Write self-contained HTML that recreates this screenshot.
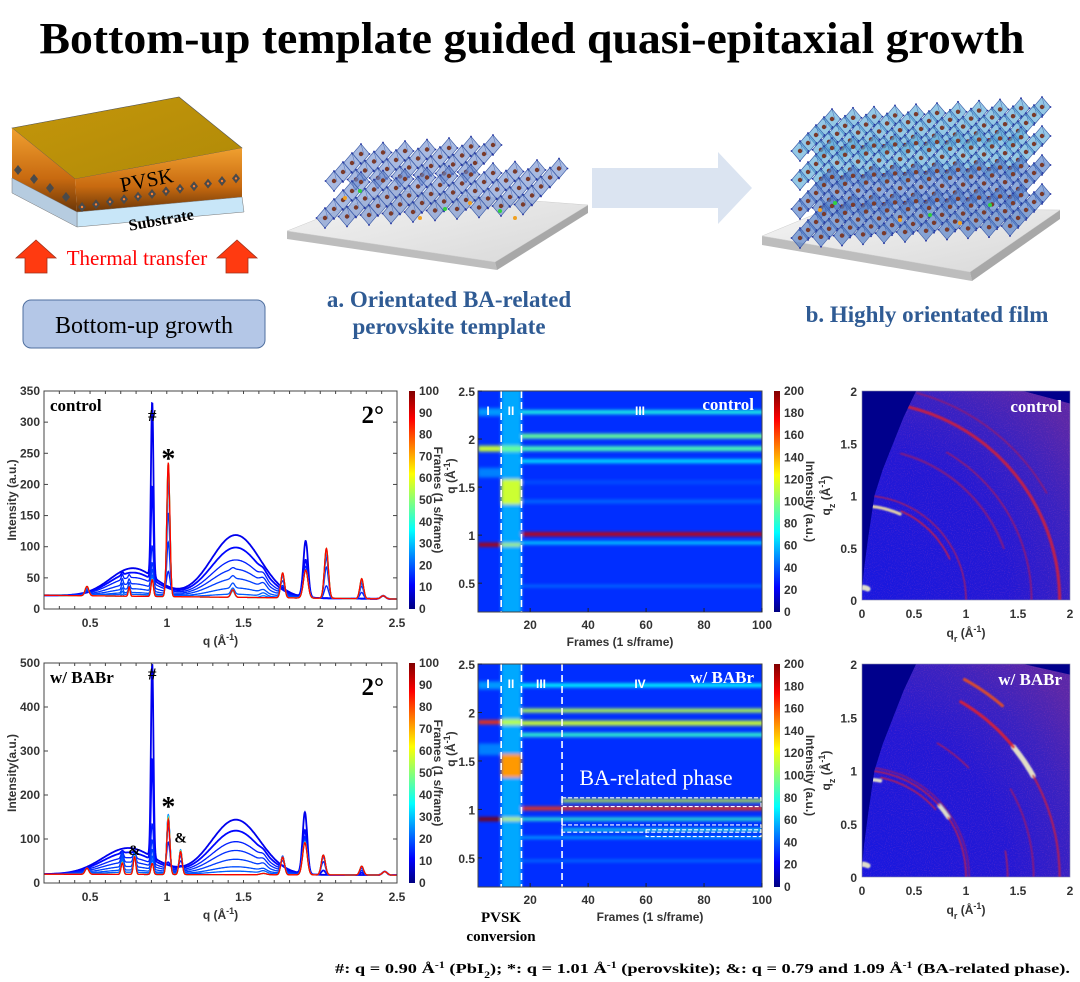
<!DOCTYPE html>
<html><head><meta charset="utf-8">
<style>
html,body{margin:0;padding:0;background:#fff;}
svg{display:block;}
.tk{font-family:"Liberation Sans",sans-serif;font-weight:bold;font-size:12px;}
.ser{font-family:"Liberation Serif",serif;}
</style></head>
<body>
<svg id="root" width="1080" height="982" viewBox="0 0 1080 982" xmlns="http://www.w3.org/2000/svg">
<defs>
  <filter id="blur1" x="-5%" y="-5%" width="110%" height="110%"><feGaussianBlur stdDeviation="1.5"/></filter>
  <filter id="blur2"><feGaussianBlur stdDeviation="0.9"/></filter>
  <filter id="spk" x="0" y="0" width="100%" height="100%"><feTurbulence type="fractalNoise" baseFrequency="0.95" numOctaves="1" seed="3"/><feColorMatrix values="0 0 0 0 0.7  0 0 0 0 0.1  0 0 0 0 0.5  0 0 0 1.6 -0.8"/></filter>
  <linearGradient id="jetv" x1="0" y1="1" x2="0" y2="0">
    <stop offset="0" stop-color="#000080"/><stop offset="0.11" stop-color="#0000ff"/><stop offset="0.36" stop-color="#00ffff"/><stop offset="0.62" stop-color="#ffff00"/><stop offset="0.87" stop-color="#ff0000"/><stop offset="1" stop-color="#800000"/>
  </linearGradient>
  <radialGradient id="gw" cx="0" cy="1" r="1.3" fx="0" fy="1">
    <stop offset="0" stop-color="#1818e0"/><stop offset="0.55" stop-color="#2418d4"/><stop offset="0.8" stop-color="#3a22c0"/><stop offset="1" stop-color="#5a28a8"/>
  </radialGradient>
  <linearGradient id="pvskTop" x1="0" y1="0" x2="1" y2="1"><stop offset="0" stop-color="#c4960a"/><stop offset="1" stop-color="#b08a08"/></linearGradient>
  <linearGradient id="pvskSide" x1="0" y1="0" x2="0" y2="1"><stop offset="0" stop-color="#f0a030"/><stop offset="0.6" stop-color="#c86a10"/><stop offset="1" stop-color="#6a3608"/></linearGradient>
  <linearGradient id="slabTop" x1="0" y1="0" x2="1" y2="1"><stop offset="0" stop-color="#f4f4f4"/><stop offset="1" stop-color="#d8d8d8"/></linearGradient>
</defs>
<rect width="1080" height="982" fill="#fff"/>

<text x="532" y="53" text-anchor="middle" class="ser" font-weight="bold" font-size="44" textLength="985" lengthAdjust="spacingAndGlyphs">Bottom-up template guided quasi-epitaxial growth</text>

<g>
  <polygon points="12,128 179,97 242,148 75,179" fill="url(#pvskTop)" stroke="#555" stroke-width="0.6"/>
  <polygon points="75,179 242,148 242,197 77,212" fill="url(#pvskSide)"/>
  <polygon points="12,128 75,179 77,212 12,178" fill="url(#pvskSide)"/>
  <polygon points="77,212 242,197 244,212 77,227" fill="#c8e6f8" stroke="#777" stroke-width="0.5"/>
  <polygon points="12,178 77,212 77,227 12,193" fill="#b6cce0" stroke="#777" stroke-width="0.5"/>
  <g id="chainRow"></g>
  <text x="148" y="187" class="ser" font-size="21" text-anchor="middle" transform="rotate(-11 148 187)">PVSK</text>
  <text x="162" y="225" class="ser" font-weight="bold" font-size="16" text-anchor="middle" transform="rotate(-10 162 225)">Substrate</text>
  <polygon points="36,240 56,258 47,258 47,273 25,273 25,258 16,258" fill="#ff3a10" stroke="#a0301a" stroke-width="0.8"/>
  <polygon points="237,240 257,258 248,258 248,273 226,273 226,258 217,258" fill="#ff3a10" stroke="#a0301a" stroke-width="0.8"/>
  <text x="137" y="265" class="ser" font-size="21" fill="#ff0000" text-anchor="middle">Thermal transfer</text>
  <rect x="23" y="300" width="242" height="48" rx="8" fill="#b4c7e7" stroke="#4f6f9f" stroke-width="1"/>
  <text x="144" y="333" class="ser" font-size="24" text-anchor="middle">Bottom-up growth</text>
</g>

<g>
  <polygon points="287,231 495,262 497,270 287,239" fill="#bdbdbd"/>
  <polygon points="495,262 588,205 588,213 497,270" fill="#a8a8a8"/>
  <polygon points="287,231 390,190 588,205 495,262" fill="url(#slabTop)" stroke="#ccc" stroke-width="0.5"/>
  <g id="crysA"></g>
</g>
<polygon points="592,168 718,168 718,152 752,188 718,224 718,208 592,208" fill="#dbe4f1"/>
<g>
  <polygon points="762,236 970,272 972,281 762,245" fill="#bdbdbd"/>
  <polygon points="970,272 1060,210 1060,219 972,281" fill="#a8a8a8"/>
  <polygon points="762,236 830,208 1060,210 970,272" fill="url(#slabTop)" stroke="#ccc" stroke-width="0.5"/>
  <g id="crysB"></g>
</g>
<text x="449" y="307" class="ser" font-weight="bold" font-size="23" fill="#2f5b94" text-anchor="middle">a. Orientated BA-related</text>
<text x="449" y="334" class="ser" font-weight="bold" font-size="23" fill="#2f5b94" text-anchor="middle">perovskite template</text>
<text x="927" y="322" class="ser" font-weight="bold" font-size="23" fill="#2f5b94" text-anchor="middle">b. Highly orientated film</text>

<g id="charts"></g>

<text x="501" y="922" class="ser" font-weight="bold" font-size="15" text-anchor="middle">PVSK</text>
<text x="501" y="941" class="ser" font-weight="bold" font-size="15" text-anchor="middle">conversion</text>

<text x="1070" y="973" class="ser" font-weight="bold" font-size="14" text-anchor="end" textLength="735" lengthAdjust="spacingAndGlyphs">#: q = 0.90 Å<tspan baseline-shift="super" font-size="9">-1</tspan> (PbI<tspan baseline-shift="sub" font-size="9">2</tspan>); *: q = 1.01 Å<tspan baseline-shift="super" font-size="9">-1</tspan> (perovskite); &amp;: q = 0.79 and 1.09 Å<tspan baseline-shift="super" font-size="9">-1</tspan> (BA-related phase).</text>
</svg>

<script>
// ---------- line plot data ----------
const ctrlPeakQ = [0.78,1.45,0.48,0.71,0.755,0.905,1.01,1.43,1.63,1.755,1.905,2.04,2.27,2.41];
const ctrlPeakW = [0.15,0.16,0.012,0.006,0.006,0.008,0.01,0.012,0.02,0.012,0.015,0.013,0.012,0.015];
const ctrlFrames = [1,4,7,9,11,13,15,18,25,40,70,100];
const ctrlBase = [22,16];
const ctrlHeights = [
 [45,100,0,0,0,280,0,0,0,0,90,0,0,5],
 [38,80,0,5,0,150,0,0,5,0,60,0,0,5],
 [30,60,3,8,5,60,30,0,8,10,50,20,10,5],
 [20,45,5,10,8,40,80,3,8,20,45,50,20,5],
 [12,30,8,10,10,35,130,5,8,30,45,65,25,5],
 [6,15,10,8,10,30,180,8,5,35,45,72,28,5],
 [3,5,12,5,12,30,200,10,5,38,45,75,30,5],
 [0,0,14,3,13,28,210,10,3,38,45,78,30,5],
 [0,0,15,0,13,28,213,11,0,39,45,79,31,5],
 [0,0,15,0,14,28,215,11,0,40,45,80,32,5],
 [0,0,15,0,14,27,215,12,0,40,45,80,32,5],
 [0,0,15,0,15,27,215,12,0,40,45,80,32,5]];
const babrPeakQ = [0.75,1.45,0.48,0.71,0.79,0.905,1.01,1.09,1.63,1.755,1.90,2.02,2.27,2.42];
const babrPeakW = [0.17,0.16,0.012,0.008,0.008,0.008,0.01,0.01,0.02,0.012,0.015,0.013,0.012,0.015];
const babrFrames = [1,4,7,9,11,13,15,18,25,40,70,100];
const babrBase = [20,18];
const babrHeights = [
 [60,125,0,0,0,440,0,0,0,0,140,0,0,8],
 [50,100,0,5,5,230,10,5,5,5,100,10,5,8],
 [38,75,3,15,15,90,60,20,8,20,85,30,10,8],
 [28,55,5,25,25,60,100,35,8,30,80,40,15,8],
 [18,35,8,30,35,45,120,45,8,35,78,45,18,8],
 [10,18,10,30,40,35,130,50,5,40,77,45,20,8],
 [5,8,12,30,42,30,135,55,5,40,76,45,20,8],
 [0,0,14,28,42,25,135,55,3,40,75,45,20,8],
 [0,0,14,28,42,25,133,55,3,40,75,45,20,8],
 [0,0,14,27,42,25,130,54,3,40,74,45,20,8],
 [0,0,14,27,41,25,128,53,3,40,74,45,20,8],
 [0,0,14,26,40,25,125,52,3,40,73,45,20,8]];
const lineXTicks = [0.5,1,1.5,2,2.5];
const ctrlYTicks = [0,50,100,150,200,250,300,350];
const babrYTicks = [0,100,200,300,400,500];
const frameBarTicks = [0,10,20,30,40,50,60,70,80,90,100];

// ---------- heatmap data ----------
const hmCtrlQ  = [1.375,0.90,1.90,2.28,1.65,1.45,0.90,1.90,2.28,2.03,1.90,1.77,1.35,1.01,0.92,0.47,1.55];
const hmCtrlF0 = [10,2,2,2,2,10,10,10,17,17,17,17,17,17,17,17,17];
const hmCtrlF1 = [17,10,10,10,10,17,17,17,100,100,100,100,100,100,100,100,100];
const hmCtrlV  = [58,190,115,55,50,115,110,95,80,95,90,70,45,185,70,50,40];
const hmCtrlW  = [1.2,0.02,0.03,0.04,0.05,0.13,0.015,0.03,0.02,0.025,0.025,0.02,0.02,0.02,0.015,0.01,0.02];
const hmCtrlDiv = [10,17];
const hmBabrQ  = [1.375,0.90,1.90,2.28,1.62,1.45,0.90,1.90,2.28,2.02,1.89,1.77,1.09,1.01,0.90,0.79,0.71,0.47];
const hmBabrF0 = [10,2,2,2,2,10,10,10,17,17,17,17,31,17,17,31,17,17];
const hmBabrF1 = [17,10,10,10,10,17,17,17,100,100,100,100,100,100,100,100,100,100];
const hmBabrV  = [58,200,165,55,50,145,115,110,75,110,115,85,115,165,85,80,65,50];
const hmBabrW  = [1.2,0.02,0.02,0.04,0.06,0.12,0.015,0.03,0.02,0.02,0.025,0.02,0.015,0.018,0.015,0.012,0.01,0.01];
const hmBabrDiv = [10,17,31];
const hmBabrBoxF0 = [31,31,60];
const hmBabrBoxF1 = [100,100,100];
const hmBabrBoxQ0 = [1.12,0.84,0.79];
const hmBabrBoxQ1 = [1.03,0.765,0.72];
const hmYTicks = [0.5,1,1.5,2,2.5];
const hmXTicks = [20,40,60,80,100];
const hmBarTicks = [0,20,40,60,80,100,120,140,160,180,200];

// ---------- GIWAXS data ----------
const gwEdgeQr = [0.0,0.02,0.06,0.12,0.2,0.3,0.4,0.52];
const gwEdgeQz = [0.1,0.3,0.6,1.0,1.25,1.5,1.75,2.0];
const gwCtrlCutQr = [1.55,2.0]; const gwCtrlCutQz = [2.0,1.88];
const gwBabrCutQr = [1.55,2.0]; const gwBabrCutQz = [2.0,1.9];
const gwCtrlRingQ  = [0.12,0.90,0.93,1.0,1.45,1.63,1.9,2.05];
const gwCtrlRingA0 = [62,66,25,0,20,0,0,30];
const gwCtrlRingA1 = [88,84,66,84,75,60,78,75];
const gwCtrlRingV  = [1.0,0.95,0.5,0.42,0.25,0.32,0.45,0.28];
const gwCtrlRingW  = [0.05,0.03,0.015,0.012,0.02,0.015,0.03,0.015];
const gwBabrRingQ  = [0.12,0.92,0.95,1.0,1.0,1.0,1.03,1.4,1.45,1.65,1.9,1.9,1.9,2.1];
const gwBabrRingA0 = [62,79,42,34,0,42,0,0,45,0,30,40,0,50];
const gwBabrRingA1 = [88,86,79,42,34,85,85,10,60,30,40,60,30,62];
const gwBabrRingV  = [1.0,1.0,0.45,1.0,0.45,0.45,0.32,0.38,0.35,0.32,1.0,0.5,0.4,0.6];
const gwBabrRingW  = [0.05,0.035,0.015,0.04,0.015,0.015,0.012,0.015,0.015,0.015,0.05,0.03,0.02,0.03];
const gwTicks = [0,0.5,1,1.5,2];

// ---------- helpers ----------
const NS='http://www.w3.org/2000/svg';
const charts=document.getElementById('charts');
function mk(tag,parent,attrs){const e=document.createElementNS(NS,tag);for(const k in attrs)e.setAttribute(k,attrs[k]);parent.appendChild(e);return e;}
function cl(v){return Math.max(0,Math.min(1,v));}
function jet(t){t=cl(t);const r=cl(1.5-Math.abs(4*t-3)),g=cl(1.5-Math.abs(4*t-2)),b=cl(1.5-Math.abs(4*t-1));return `rgb(${Math.round(r*255)},${Math.round(g*255)},${Math.round(b*255)})`;}
function hot(v){v=cl(v);let r,g,b;
  if(v<0.5){const t=v/0.5;r=60+170*t;g=20+10*t;b=190-150*t;}
  else if(v<0.75){const t=(v-0.5)/0.25;r=230+25*t;g=30+130*t;b=40-40*t;}
  else{const t=(v-0.75)/0.25;r=255;g=160+95*t;b=200*t;}
  return `rgb(${Math.round(r)},${Math.round(g)},${Math.round(b)})`;}
function label(parent,x,y,str,name,opts,color){
  const t=mk('text',parent,Object.assign({x:x,y:y,class:'tk'},opts||{}));
  t.style.fill=color||'#333';
  
  
  t.textContent=str;return t;}
function unitLabel(parent,x,y,pre,name,rot,extra){
  const t=mk('text',parent,{x:x,y:y,class:'tk','font-size':14,'text-anchor':'middle'});
  t.style.fill='#333';
  if(rot) t.setAttribute('transform',`rotate(${rot} ${x} ${y})`);
  
  
  t.appendChild(document.createTextNode(pre));
  if(extra){const s=mk('tspan',t,{'baseline-shift':'sub','font-size':9});s.textContent=extra;t.appendChild(document.createTextNode(' '));}
  t.appendChild(document.createTextNode('(Å'));
  const sp=mk('tspan',t,{'baseline-shift':'super','font-size':9});sp.textContent='-1';
  t.appendChild(document.createTextNode(')'));
  return t;}
let clipN=0;
function clip(x,y,w,h){const id='cp'+(clipN++);const c=mk('clipPath',document.querySelector('defs'),{id:id});mk('rect',c,{x:x,y:y,width:w,height:h});return 'url(#'+id+')';}
function colorbar(parent,x,y0,y1,ticks,max,name){
  const r=mk('rect',parent,{x:x,y:y0,width:6,height:y1-y0,fill:'url(#jetv)'});
  
  
  ticks.forEach(v=>{const yy=y1-v/max*(y1-y0);label(parent,x+10,yy+4,String(v),name+'-tick');});
}

// ---------- line plot ----------
function linePlot(o){
  const g=mk('g',charts,{});
  
  
  const xs=q=>o.x0+(q-0.2)/2.3*(o.x1-o.x0), ys=v=>o.y1-v/o.ymax*(o.y1-o.y0);
  const cg=mk('g',g,{'clip-path':clip(o.x0,o.y0,o.x1-o.x0,o.y1-o.y0)});
  o.frames.forEach((f,k)=>{
    const h=o.heights[k];let d='';
    for(let q=0.2;q<=2.5001;q+=0.002){
      let v=o.base[0]+(o.base[1]-o.base[0])*(q-0.2)/2.3;
      for(let i=0;i<o.peakQ.length;i++){const z=(q-o.peakQ[i])/o.peakW[i];v+=h[i]*Math.exp(-0.5*z*z);}
      d+=(d?'L':'M')+xs(q).toFixed(1)+','+ys(v).toFixed(1);
    }
    const p=mk('path',cg,{d:d,fill:'none',stroke:jet(0.1+0.78*f/100),'stroke-width':f<5?1.8:1.3});
    
    
  });
  mk('rect',g,{x:o.x0,y:o.y0,width:o.x1-o.x0,height:o.y1-o.y0,fill:'none',stroke:'#444','stroke-width':1});
  for(let q=0.3;q<2.5;q+=0.1){const x=xs(q);mk('line',g,{x1:x,x2:x,y1:o.y1,y2:o.y1-3,stroke:'#444'});mk('line',g,{x1:x,x2:x,y1:o.y0,y2:o.y0+3,stroke:'#444'});}
  o.xticks.forEach(q=>{label(g,xs(q),o.y1+18,String(q),'x-tick-label',{'text-anchor':'middle','font-size':13});});
  o.yticks.forEach(v=>{const y=ys(v);mk('line',g,{x1:o.x0,x2:o.x0+4,y1:y,y2:y,stroke:'#444'});mk('line',g,{x1:o.x1,x2:o.x1-4,y1:y,y2:y,stroke:'#444'});label(g,o.x0-4,y+4,String(v),'y-tick-label',{'text-anchor':'end','font-size':13});});
  unitLabel(g,(o.x0+o.x1)/2,o.y1+36,'q ','x-axis-title');
  label(g,16,(o.y0+o.y1)/2,o.ylab,'y-axis-title',{'text-anchor':'middle','font-size':14,transform:`rotate(-90 16 ${(o.y0+o.y1)/2})`});
  colorbar(g,409,o.y0,o.y1,frameBarTicks,100,'frame-colorbar');
  label(g,434,(o.y0+o.y1)/2,'Frames (1 s/frame)','colorbar-title',{'text-anchor':'middle','font-size':14,transform:`rotate(90 434 ${(o.y0+o.y1)/2})`});
  const s=mk('text',g,{x:o.x0+6,y:o.y0+20,class:'ser','font-weight':'bold','font-size':17});
  
  
  s.textContent=o.sample;
  const a=mk('text',g,{x:o.x1-13,y:o.y0+32,class:'ser','font-weight':'bold','font-size':25,'text-anchor':'end'});
  
  
  a.textContent='2°';
  o.marks.forEach(m=>{const t=mk('text',g,{x:xs(m[0]),y:ys(m[1]),class:'ser','font-size':m[3],'text-anchor':'middle','font-weight':'bold'});
    
    
    t.textContent=m[2];});
}
linePlot({name:'control-intensity-plot',x0:44,x1:397,y0:391,y1:609,ymax:350,xticks:lineXTicks,yticks:ctrlYTicks,frames:ctrlFrames,heights:ctrlHeights,peakQ:ctrlPeakQ,peakW:ctrlPeakW,base:ctrlBase,ylab:'Intensity (a.u.)',sample:'control',
  marks:[[0.905,302,'#',17],[1.01,226,'*',28]]});
linePlot({name:'babr-intensity-plot',x0:44,x1:397,y0:663,y1:883,ymax:500,xticks:lineXTicks,yticks:babrYTicks,frames:babrFrames,heights:babrHeights,peakQ:babrPeakQ,peakW:babrPeakW,base:babrBase,ylab:'Intensity(a.u.)',sample:'w/ BABr',
  marks:[[0.905,463,'#',17],[1.01,152,'*',28],[0.79,64,'&',15],[1.09,92,'&',15]]});

// ---------- heatmaps ----------
function heatmap(o){
  const g=mk('g',charts,{});
  
  
  const xs=f=>o.x0+(f-2)/98*(o.x1-o.x0), ys=q=>o.y1-(q-0.2)/2.3*(o.y1-o.y0);
  const cg=mk('g',g,{'clip-path':clip(o.x0,o.y0,o.x1-o.x0,o.y1-o.y0)});
  mk('rect',cg,{x:o.x0,y:o.y0,width:o.x1-o.x0,height:o.y1-o.y0,fill:jet(34/200)});
  const bg=mk('g',cg,{filter:'url(#blur1)'});
  o.q.forEach((q,i)=>{
    const r=mk('rect',bg,{x:xs(o.f0[i]),y:ys(q+o.w[i]),width:xs(o.f1[i])-xs(o.f0[i])+(o.f1[i]>=100?4:0),height:Math.max(2,ys(q-o.w[i])-ys(q+o.w[i])),fill:jet(o.v[i]/200)});
    
    
  });
  o.div.forEach(f=>{const l=mk('line',cg,{x1:xs(f),x2:xs(f),y1:o.y0,y2:o.y1,stroke:'#fff','stroke-width':1.6,'stroke-dasharray':'7,4'});
    
    });
  (o.boxes||[]).forEach(b=>{const r=mk('rect',cg,{x:xs(b[0]),y:ys(b[2]),width:xs(b[1])-xs(b[0])-1,height:ys(b[3])-ys(b[2]),fill:'none',stroke:'#fff','stroke-width':1.1,'stroke-dasharray':'4,2'});
    
    });
  mk('rect',g,{x:o.x0,y:o.y0,width:o.x1-o.x0,height:o.y1-o.y0,fill:'none',stroke:'#444'});
  hmXTicks.forEach(f=>{const x=xs(f);mk('line',g,{x1:x,x2:x,y1:o.y1,y2:o.y1-4,stroke:'#222'});label(g,x,o.y1+17,String(f),'x-tick-label',{'text-anchor':'middle','font-size':13});});
  hmYTicks.forEach(q=>{const y=ys(q);mk('line',g,{x1:o.x0,x2:o.x0+4,y1:y,y2:y,stroke:'#222'});label(g,o.x0-3,y+5,String(q),'y-tick-label',{'text-anchor':'end','font-size':13});});
  label(g,o.xlabX,o.y1+34,'Frames (1 s/frame)','x-axis-title',{'text-anchor':'middle','font-size':14});
  unitLabel(g,455,o.y0+85,'q ','y-axis-title',-90);
  colorbar(g,774,o.y0,o.y1,hmBarTicks,200,'intensity-colorbar');
  label(g,806,(o.y0+o.y1)/2,'Intensity (a.u.)','colorbar-title',{'text-anchor':'middle','font-size':14,transform:`rotate(90 806 ${(o.y0+o.y1)/2})`});
  o.roman.forEach(r=>{label(g,r[0],o.y0+24,r[1],'stage-label',{'text-anchor':'middle','font-size':17},'#fff');});
  const s=mk('text',g,{x:o.x1-8,y:o.y0+19,class:'ser','font-weight':'bold','font-size':17,fill:'#fff','text-anchor':'end'});
  
  
  s.textContent=o.sample;
  if(o.phase){const t=mk('text',g,{x:656,y:o.y0+121,class:'ser','font-size':22,fill:'#fff','text-anchor':'middle'});
    
    
    t.textContent='BA-related phase';}
}
heatmap({name:'control-heatmap',x0:478,x1:762,y0:391,y1:612,q:hmCtrlQ,f0:hmCtrlF0,f1:hmCtrlF1,v:hmCtrlV,w:hmCtrlW,div:hmCtrlDiv,sample:'control',xlabX:620,
  roman:[[488,'I'],[511,'II'],[640,'III']]});
heatmap({name:'babr-heatmap',x0:478,x1:762,y0:664,y1:887,q:hmBabrQ,f0:hmBabrF0,f1:hmBabrF1,v:hmBabrV,w:hmBabrW,div:hmBabrDiv,sample:'w/ BABr',xlabX:650,phase:true,
  boxes:hmBabrBoxF0.map((f,i)=>[f,hmBabrBoxF1[i],hmBabrBoxQ0[i],hmBabrBoxQ1[i]]),
  roman:[[488,'I'],[511,'II'],[541,'III'],[640,'IV']]});

// ---------- GIWAXS ----------
function giwaxs(o){
  const g=mk('g',charts,{});
  
  
  const xs=q=>o.x0+q/2*(o.x1-o.x0), ys=q=>o.y1-q/2*(o.y1-o.y0);
  mk('rect',g,{x:o.x0,y:o.y0,width:o.x1-o.x0,height:o.y1-o.y0,fill:'#00008c'});
  let pts=gwEdgeQr.map((r,i)=>xs(r)+','+ys(gwEdgeQz[i]));
  pts.push(xs(o.cutR[0])+','+ys(o.cutZ[0]));pts.push(xs(o.cutR[1])+','+ys(o.cutZ[1]));
  pts.push(xs(2)+','+ys(0));pts.push(xs(0)+','+ys(0));
  const cpid='gwc'+(clipN++);const cp=mk('clipPath',document.querySelector('defs'),{id:cpid});
  mk('polygon',cp,{points:pts.join(' ')});
  const area=mk('g',g,{'clip-path':`url(#${cpid})`});
  const bgr=mk('rect',area,{x:o.x0,y:o.y0,width:o.x1-o.x0,height:o.y1-o.y0,fill:'url(#gw)'});
  
  
  mk('rect',area,{x:o.x0,y:o.y0,width:o.x1-o.x0,height:o.y1-o.y0,filter:'url(#spk)',opacity:0.45});
  const rg=mk('g',area,{filter:'url(#blur2)'});
  o.rq.forEach((q,i)=>{
    let d='';
    for(let a=o.a0[i];a<=o.a1[i]+0.01;a+=1){const t=a*Math.PI/180;d+=(d?'L':'M')+xs(q*Math.cos(t)).toFixed(1)+','+ys(q*Math.sin(t)).toFixed(1);}
    const p=mk('path',rg,{d:d,fill:'none',stroke:hot(o.v[i]),'stroke-width':Math.max(1.2,o.w[i]/2*(o.x1-o.x0)),'stroke-linecap':'round','stroke-opacity':0.85});
    
    
  });
  mk('rect',g,{x:o.x0,y:o.y0,width:o.x1-o.x0,height:o.y1-o.y0,fill:'none',stroke:'#88a',"stroke-width":0.6});
  gwTicks.forEach(q=>{label(g,xs(q),o.y1+18,String(q),'x-tick-label',{'text-anchor':'middle','font-size':13});
    label(g,o.x0-5,ys(q)+5,String(q),'y-tick-label',{'text-anchor':'end','font-size':13});});
  unitLabel(g,(o.x0+o.x1)/2,o.y1+37,'q','x-axis-title',0,'r');
  unitLabel(g,830,(o.y0+o.y1)/2,'q','y-axis-title',-90,'z');
  const s=mk('text',g,{x:o.x1-8,y:o.y0+21,class:'ser','font-weight':'bold','font-size':17,fill:'#fff','text-anchor':'end'});
  
  
  s.textContent=o.sample;
}
giwaxs({name:'control-giwaxs',x0:862,x1:1070,y0:391,y1:600,cutR:gwCtrlCutQr,cutZ:gwCtrlCutQz,rq:gwCtrlRingQ,a0:gwCtrlRingA0,a1:gwCtrlRingA1,v:gwCtrlRingV,w:gwCtrlRingW,sample:'control'});
giwaxs({name:'babr-giwaxs',x0:862,x1:1070,y0:664,y1:877,cutR:gwBabrCutQr,cutZ:gwBabrCutQz,rq:gwBabrRingQ,a0:gwBabrRingA0,a1:gwBabrRingA1,v:gwBabrRingV,w:gwBabrRingW,sample:'w/ BABr'});

// ---------- decorative crystals ----------
function octa(parent,cx,cy,s,fill){
  const g=mk('g',parent,{});
  mk('polygon',g,{points:`${cx},${cy-s} ${cx+s*0.85},${cy} ${cx},${cy+s} ${cx-s*0.85},${cy}`,fill:fill,stroke:'#3a5aa8','stroke-width':0.6});
  mk('line',g,{x1:cx,y1:cy-s,x2:cx+s*0.3,y2:cy+s*0.1,stroke:'#3a5aa8','stroke-width':0.4});
  mk('circle',g,{cx:cx,cy:cy,r:s*0.22,fill:'#7a3a2a'});
  [[0,-s],[s*0.85,0],[0,s],[-s*0.85,0]].forEach(p=>mk('circle',g,{cx:cx+p[0],cy:cy+p[1],r:0.9,fill:'#2030a0'}));
}
const cA=document.getElementById('crysA');


for(let l=1;l>=0;l--)for(let j=4;j>=0;j--)for(let i=0;i<10;i++){
  if(l==1&&(i>6||j<1))continue;
  octa(cA,325+i*22+j*9,218-j*9-i*1.5-l*28,10,'rgba(110,140,205,0.6)');}
[[345,198],[360,191],[420,218],[445,209],[470,203],[500,211],[515,218]].forEach((p,k)=>mk('circle',cA,{cx:p[0],cy:p[1],r:2,fill:k%2?'#30d040':'#f0a020'}));
const cB=document.getElementById('crysB');


for(let l=3;l>=0;l--)for(let j=4;j>=0;j--)for(let i=0;i<11;i++){
  octa(cB,800+i*21+j*8,238-j*8-i*1.2-l*29,10,l>=2?'rgba(90,170,215,0.65)':'rgba(80,125,200,0.65)');}
[[820,210],[835,203],[900,220],[930,215],[960,223],[990,205]].forEach((p,k)=>mk('circle',cB,{cx:p[0],cy:p[1],r:2,fill:k%2?'#30d040':'#f0a020'}));
const cr=document.getElementById('chainRow');
for(let i=0;i<12;i++){const x=82+i*14,y=207-i*2.6;mk('polygon',cr,{points:`${x},${y-5} ${x+4},${y} ${x},${y+5} ${x-4},${y}`,fill:'#4a4a4a'});mk('circle',cr,{cx:x,cy:y,r:1.2,fill:'#ff8030'});}
for(let i=0;i<4;i++){const x=18+i*16,y=170+i*9;mk('polygon',cr,{points:`${x},${y-5} ${x+4},${y} ${x},${y+5} ${x-4},${y}`,fill:'#4a4a4a'});}
</script>
</body></html>
